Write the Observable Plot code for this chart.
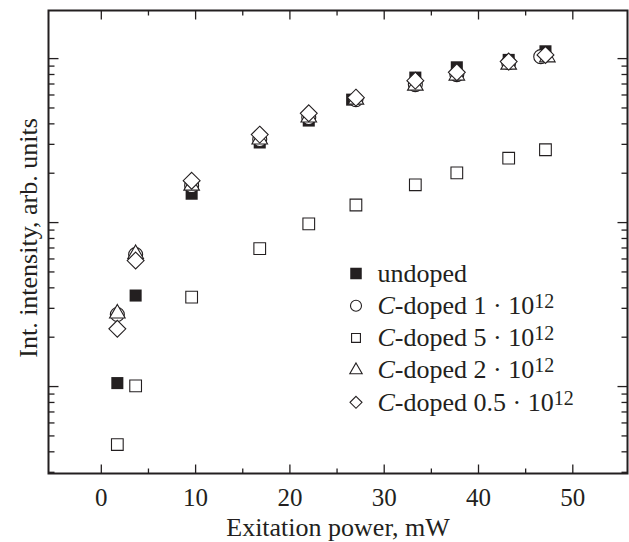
<!DOCTYPE html>
<html><head><meta charset="utf-8">
<script src="https://cdn.jsdelivr.net/npm/d3@7"></script>
<script src="https://cdn.jsdelivr.net/npm/@observablehq/plot@0.6"></script>
<style>body{margin:0;background:#fff}</style>
</head><body><div id="chart"></div>
<script>
// Excitation power (mW) and integrated intensity (arb. units)
const powerUndoped = [1.7, 3.64, 9.58, 16.8, 22.0, 26.6, 33.3, 37.7, 43.2, 47.1];
const intUndoped   = [10.5, 35.9, 150, 308, 419, 562, 766, 885, 982, 1108];
const powerC1 = [1.7, 3.64, 9.58, 16.8, 22.0, 27.0, 33.3, 37.7, 43.2, 46.6];
const intC1   = [27.5, 63.8, 168, 321, 437, 562, 694, 799, 945, 1028];
const powerC5 = [1.7, 3.64, 9.58, 16.8, 22.0, 27.0, 33.3, 37.7, 43.2, 47.1];
const intC5   = [4.43, 10.1, 35.1, 69.4, 98.2, 128, 170, 201, 247, 278];
const powerC2 = [1.7, 3.64, 9.58, 16.8, 22.0, 27.0, 33.3, 37.7, 43.2, 47.3];
const intC2   = [27.9, 64.4, 168, 321, 437, 562, 684, 788, 919, 1018];
const powerC05 = [1.7, 3.64, 9.58, 16.8, 22.0, 27.0, 33.3, 37.7, 43.2, 47.1];
const intC05   = [22.5, 58.7, 180, 344, 464, 578, 734, 825, 959, 1053];

const legendLabels = ["undoped", "C-doped 1 · 10^12", "C-doped 5 · 10^12", "C-doped 2 · 10^12", "C-doped 0.5 · 10^12"];

const xMajorTicks = [0, 10, 20, 30, 40, 50];
const xMinorTicks = [5, 15, 25, 35, 45];
const yMajorTicks = [10, 100, 1000];
const yMinorTicks = [3, 4, 5, 6, 7, 8, 9, 20, 30, 40, 50, 60, 70, 80, 90, 200, 300, 400, 500, 600, 700, 800, 900];

const xLabel = "Exitation power, mW";
const yLabel = "Int. intensity, arb. units";

const ink = "#231f20";
const zip = (xs, ys) => xs.map((x, i) => ({x, y: ys[i]}));

const series = [
  {data: zip(powerUndoped, intUndoped), symbol: "square", r: 6.8, fill: ink, stroke: "none", lr: 6.5},
  {data: zip(powerC1, intC1), symbol: "circle", r: 7, fill: "white", stroke: ink, lr: 5.5},
  {data: zip(powerC5, intC5), symbol: "square", r: 6.6, fill: "white", stroke: ink, lr: 5},
  {data: zip(powerC2, intC2), symbol: "triangle", r: 5.8, fill: "white", stroke: ink, lr: 4.6},
  {data: zip(powerC05, intC05), symbol: "diamond2", r: 7.6, fill: "white", stroke: ink, lr: 5.4}
];

const tickSym = (ux, uy) => ({draw(ctx, size) {
  const l = Math.sqrt(size / Math.PI);
  ctx.moveTo(0, 0); ctx.lineTo(ux * l, uy * l);
}});
const tickStyle = {fill: "none", stroke: ink, strokeWidth: 1.3};

const marks = [Plot.frame({stroke: ink, strokeWidth: 2})];
// ticks, inward, on all four sides
marks.push(
  Plot.dot(xMajorTicks, {x: d => d, frameAnchor: "bottom", symbol: tickSym(0, -1), r: 9, ...tickStyle}),
  Plot.dot(xMinorTicks, {x: d => d, frameAnchor: "bottom", symbol: tickSym(0, -1), r: 5, ...tickStyle}),
  Plot.dot(xMajorTicks, {x: d => d, frameAnchor: "top", symbol: tickSym(0, 1), r: 9, ...tickStyle}),
  Plot.dot(xMinorTicks, {x: d => d, frameAnchor: "top", symbol: tickSym(0, 1), r: 5, ...tickStyle}),
  Plot.dot(yMajorTicks, {y: d => d, frameAnchor: "left", symbol: tickSym(1, 0), r: 10, ...tickStyle}),
  Plot.dot(yMinorTicks, {y: d => d, frameAnchor: "left", symbol: tickSym(1, 0), r: 6, ...tickStyle}),
  Plot.dot(yMajorTicks, {y: d => d, frameAnchor: "right", symbol: tickSym(-1, 0), r: 10, ...tickStyle}),
  Plot.dot(yMinorTicks, {y: d => d, frameAnchor: "right", symbol: tickSym(-1, 0), r: 6, ...tickStyle}),
  Plot.text(xMajorTicks, {x: d => d, text: d => String(d), frameAnchor: "bottom", lineAnchor: "middle", textAnchor: "middle", dy: 24, fontSize: 25, fill: ink}),
  Plot.text([xLabel], {text: d => d, frameAnchor: "bottom", lineAnchor: "middle", textAnchor: "middle", dy: 54, fontSize: 26, fill: ink}),
  Plot.text([yLabel], {text: d => d, frameAnchor: "left", lineAnchor: "middle", textAnchor: "middle", dx: -20, dy: -4, rotate: -90, fontSize: 26, fill: ink})
);
// data
for (const s of series) {
  marks.push(Plot.dot(s.data, {x: "x", y: "y", symbol: s.symbol, r: s.r, fill: s.fill, stroke: s.stroke, strokeWidth: 1.1}));
}
// legend
series.forEach((s, i) => {
  marks.push(Plot.dot([legendLabels[i]], {frameAnchor: "top-left", dx: 307.5, dy: 263 + i * 32.2, symbol: s.symbol, r: s.lr, fill: s.fill, stroke: s.stroke, strokeWidth: 1.1}));
  marks.push(Plot.text([legendLabels[i]], {text: d => d, frameAnchor: "top-left", lineAnchor: "middle", textAnchor: "start", dx: 329, dy: 263 + i * 32.2, fontSize: 26, fill: ink}));
});

const chart = Plot.plot({
  width: 629, height: 542,
  marginLeft: 48, marginRight: 2, marginTop: 10, marginBottom: 69,
  x: {domain: [-5.6, 55.8], axis: null},
  y: {type: "log", domain: [2.95, 1965], axis: null},
  style: {fontFamily: "'Liberation Serif', 'Times New Roman', serif", fontSize: "25px", color: ink, background: "white"},
  marks
});

// italic "C" and superscript exponent in legend labels
chart.querySelectorAll("text").forEach(t => {
  const s = t.textContent;
  if (!s.startsWith("C-doped")) return;
  const [base, sup] = s.split("^");
  t.textContent = "";
  const ns = "http://www.w3.org/2000/svg";
  const c = document.createElementNS(ns, "tspan");
  c.setAttribute("font-style", "italic"); c.textContent = "C";
  const rest = document.createElementNS(ns, "tspan");
  rest.textContent = base.slice(1);
  const sp = document.createElementNS(ns, "tspan");
  sp.setAttribute("dy", "-0.3em"); sp.setAttribute("font-size", "20px"); sp.textContent = sup;
  t.append(c, rest, sp);
});

document.getElementById("chart").append(chart);
</script>
</body></html>
